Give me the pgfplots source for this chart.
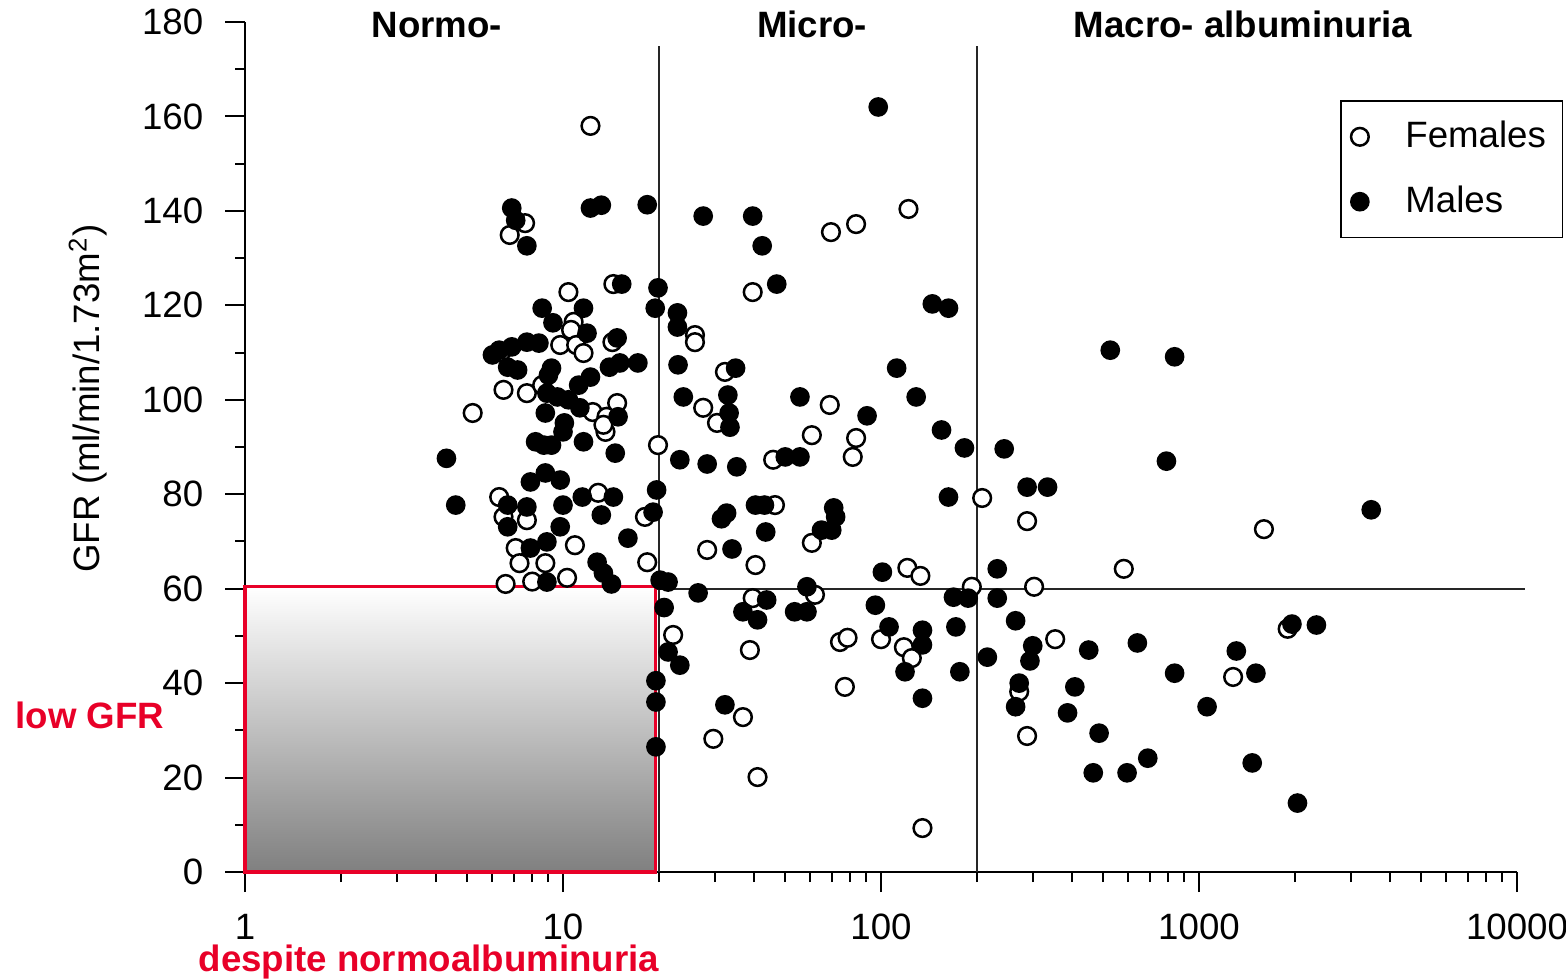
\documentclass[border=0pt]{standalone}
\usepackage{pgfplots}
\pgfplotsset{compat=1.18}
\usepackage{fontspec}
\setmainfont{Liberation Sans}
\definecolor{hl}{RGB}{232,0,40}
\begin{document}
\begin{tikzpicture}
\begin{axis}[
  scale only axis, width=381.6pt, height=255pt,
  xmode=log, xmin=1, xmax=10000, ymin=0, ymax=180,
  axis lines*=left, axis line style={line width=0.6pt},
  clip=false,
  xtick={1,10,100,1000,10000}, xticklabels={1,10,100,1000,10000},
  minor xtick={2,3,4,5,6,7,8,9,20,30,40,50,60,70,80,90,200,300,400,500,600,700,800,900,2000,3000,4000,5000,6000,7000,8000,9000},
  ytick={0,20,...,180}, minor ytick={10,30,...,170},
  tick align=outside, major tick length=6pt, minor tick length=3pt,
  tick style={line width=0.6pt, black},
  /pgf/number format/assume math mode=true,
  tick label style={font=\fontsize{11}{13}\selectfont},
  xticklabel style={yshift=-3pt},
  yticklabel style={xshift=-3pt},
  label style={font=\fontsize{11}{13}\selectfont},
  ylabel={GFR (ml/min/1.73m\textsuperscript{2})},
  ylabel style={at={(axis description cs:-0.1234,0.557)}, anchor=center},
  legend style={at={(axis description cs:0.861,0.908)}, anchor=north west, draw=black, line width=0.5pt, font=\fontsize{11}{13}\selectfont, row sep=6pt, column sep=9pt, inner xsep=3pt, inner ysep=4pt},
  legend cell align=left,
]
\draw[line width=0.6pt, black!85] (axis cs:1,60) -- (axis cs:10600,60);
\draw[line width=0.6pt, black!85] (axis cs:20,0) -- (axis cs:20,175);
\draw[line width=0.6pt, black!85] (axis cs:200,0) -- (axis cs:200,175);

\addplot[only marks, mark=*, mark size=2.65pt, mark options={draw=black, fill=white, line width=0.75pt}] coordinates {
(12.2,158) (122,140.4) (7.6,137.4) (6.8,134.9) (69.6,135.5) (83.5,137.2) (39.5,122.8)
(26,113.7) (26,112.2) (32.3,105.9) (27.6,98.3) (30.5,95.1) (69,98.9) (60.6,92.5)
(83.5,91.9) (81.5,87.9) (19.9,90.4) (45.8,87.3) (46.4,77.7) (18.1,75.2) (60.6,69.7)
(28.4,68.2) (40.3,65.0) (121,64.4) (133,62.7) (18.4,65.6) (39.5,58.0) (62,58.7)
(193,60.4) (74.3,48.7) (78.5,49.6) (100,49.3) (118,47.6) (125,45.3) (77,39.2)
(36.8,32.8) (29.7,28.2) (40.9,20.1) (135,9.3) (22.2,50.2) (38.7,47.0) (208,79.2)
(288,74.3) (1600,72.6) (580,64.2) (303,60.4) (353,49.3) (1900,51.5) (1280,41.3)
(272,38.2) (288,28.8)
(10.4,122.8) (14.4,124.5) (10.8,116.5) (10.6,114.8) (9.8,111.6) (11.0,111.6) (11.6,109.9)
(14.3,112.2) (6.4,110.1) (6.5,102.1) (7.7,101.4) (8.6,103.1) (12.4,97.4) (14.8,99.3)
(13.7,96.4) (13.6,93.2) (13.4,94.7) (5.2,97.2) (12.9,80.3) (6.3,79.4) (6.5,75.2)
(7.7,74.5) (10.9,69.2) (7.1,68.6) (7.3,65.4) (8.8,65.4) (10.3,62.3) (6.6,61) (8,61.5)
};
\addlegendentry{Females}
\addplot[only marks, mark=*, mark size=2.65pt, mark options={draw=black, fill=black, line width=0.6pt}] coordinates {
(98,162) (6.9,140.6) (7.1,138) (7.7,132.6) (12.2,140.6) (13.2,141.2) (18.4,141.3)
(27.6,138.9) (39.5,138.9) (42.3,132.6) (47.0,124.5) (145,120.3) (163,119.4) (19.9,123.7)
(19.5,119.4) (22.9,118.4) (22.9,115.4) (23,107.4) (34.9,106.7) (112,106.7) (23.9,100.6)
(33,101) (33.3,97.2) (33.5,94.2) (55.6,100.6) (129,100.6) (90.4,96.6) (155,93.6)
(183,89.8) (23.3,87.3) (28.4,86.4) (35.2,85.8) (50,87.9) (55.6,87.9) (163,79.4)
(19.7,80.9) (19.2,76.2) (32.7,76.0) (31.5,74.8) (40.3,77.7) (43,77.7) (71,77.1)
(72,75.2) (70,72.4) (65,72.4) (43.4,72) (34,68.4) (101,63.5) (20.2,61.8) (21.4,61.4)
(26.6,59.1) (43.7,57.6) (58.5,60.4) (96,56.5) (169,58.2) (188,58.0) (36.8,55.1)
(40.9,53.4) (53.5,55.1) (58.5,55.1) (106,51.9) (135,51.2) (135,48.1) (119,42.4)
(172,51.9) (177,42.4) (135,36.8) (32.3,35.4) (21.4,46.6) (23.3,43.8) (20.8,56)
(19.6,40.5) (19.6,36) (19.6,26.5)
(526,110.5) (838,109.1) (244,89.6) (790,87.0) (288,81.5) (334,81.5) (3480,76.7)
(232,64.2) (232,58.0) (265,53.2) (300,47.9) (294,44.7) (216,45.5) (450,47.0) (640,48.5)
(1960,52.5) (2340,52.3) (1310,46.8) (838,42.1) (1510,42.1) (272,40.0) (265,35.0)
(407,39.2) (386,33.7) (1060,35.0) (485,29.4) (690,24.1) (465,21.0) (594,21.0)
(1470,23.1) (2040,14.6)
(15.3,124.5) (8.6,119.4) (11.6,119.4) (9.3,116.3) (11.9,114.1) (14.8,113.1) (6.0,109.5)
(6.3,110.5) (6.9,111.2) (7.7,112.2) (8.4,112.0) (6.7,106.9) (7.2,106.3) (9.2,106.7)
(9.0,105.2) (12.2,104.8) (11.2,103.1) (14.0,106.9) (15.1,107.8) (17.2,107.8) (8.9,101.4)
(9.6,100.6) (10.4,100) (11.3,98.3) (14.9,96.4) (8.8,97.2) (10.1,95.1) (10.0,93.2)
(8.2,91.1) (8.7,90.4) (9.2,90.4) (11.6,91.1) (14.6,88.7) (4.3,87.6) (4.6,77.7)
(7.9,82.6) (8.8,84.5) (9.8,83.0) (11.5,79.4) (14.4,79.4) (6.7,77.7) (7.7,77.3)
(6.7,73.1) (10.0,77.7) (9.8,73.1) (13.2,75.6) (8.9,69.9) (7.9,68.6) (16.0,70.7)
(12.8,65.6) (13.4,63.3) (8.9,61.4) (14.2,61)
};
\addlegendentry{Males}

\draw[draw=hl, line width=1pt, top color=white, bottom color=black!50] (axis cs:1,0) rectangle (axis cs:19.5,60.4);

\node[font=\bfseries\fontsize{11}{13}\selectfont] at (axis cs:4.01,179.4) {Normo-};
\node[font=\bfseries\fontsize{11}{13}\selectfont] at (axis cs:60.7,179.4) {Micro-};
\node[font=\bfseries\fontsize{11}{13}\selectfont] at (axis cs:1374,179.4) {Macro- albuminuria};
\node[font=\bfseries\fontsize{11}{13}\selectfont, text=hl, anchor=west, inner sep=0pt] at (axis cs:1,33.2) [xshift=-69pt] {low GFR};
\node[font=\bfseries\fontsize{11}{13}\selectfont, text=hl, anchor=west, inner sep=0pt] at (axis cs:1,0) [xshift=-14.1pt, yshift=-27pt] {despite normoalbuminuria};
\coordinate (bl) at (axis cs:1,0);
\end{axis}
\pgfresetboundingbox
\useasboundingbox ([shift={(-73.5pt,-32.1pt)}]bl) rectangle ([shift={(396.3pt,261.6pt)}]bl);
\end{tikzpicture}
\end{document}
